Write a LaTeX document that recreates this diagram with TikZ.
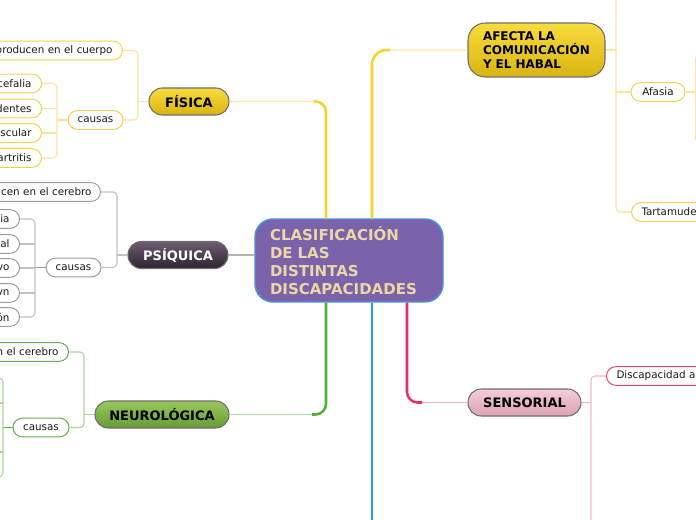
\documentclass[tikz,border=0pt]{standalone}
\usepackage{fontspec}
\setmainfont{DejaVu Sans}
\definecolor{yTop}{HTML}{F8DC3C}
\definecolor{yBot}{HTML}{D9B412}
\definecolor{pTop}{HTML}{705C72}
\definecolor{pBot}{HTML}{2E2230}
\definecolor{gTop}{HTML}{97C85E}
\definecolor{gBot}{HTML}{679C32}
\definecolor{sTop}{HTML}{F4CDD7}
\definecolor{sBot}{HTML}{DCA2B2}
\definecolor{tBorder}{HTML}{6E6E6E}
\definecolor{cFill}{HTML}{7A63AB}
\definecolor{cBorder}{HTML}{4A92DA}
\definecolor{cText}{HTML}{EBD8A5}
\definecolor{ySub}{HTML}{F6D24A}
\definecolor{gySub}{HTML}{9C9C9C}
\definecolor{grSub}{HTML}{62B04A}
\definecolor{pkSub}{HTML}{E2457C}
\definecolor{ySubL}{HTML}{FBE49C}
\definecolor{gySubL}{HTML}{C2C2C2}
\definecolor{grSubL}{HTML}{AAD592}
\definecolor{pkSubL}{HTML}{F6B5C8}
\definecolor{ySat}{HTML}{F6D22A}
\definecolor{yLight}{HTML}{FCE9A4}
\definecolor{gSat}{HTML}{56AE3E}
\definecolor{gLight}{HTML}{BFE0AE}
\definecolor{rSat}{HTML}{E62E6B}
\definecolor{rLight}{HTML}{F8B8CB}
\definecolor{bLine}{HTML}{2C9FE3}
\definecolor{grayLine}{HTML}{B5B5B5}
\definecolor{txt}{HTML}{1A1A1A}
\begin{document}
\begin{tikzpicture}[x=0.75pt,y=-0.75pt,
  topic/.style={draw=tBorder, line width=0.8pt, inner sep=0pt, minimum height=20.25pt,
    rounded corners=10pt, align=center, font=\fontsize{9.75pt}{12pt}\selectfont\bfseries},
  sub/.style={draw, fill=white, line width=0.75pt, inner ysep=0pt, minimum height=14pt,
    rounded corners=7pt, font=\fontsize{7.75pt}{9.5pt}\selectfont, text=txt},
  subR/.style={sub, anchor=east, text width=#1, align=right, inner xsep=7.5pt},
  subL/.style={sub, anchor=west, text width=#1, align=left, inner xsep=7.5pt},
  yl/.style={draw=ySubL, line width=0.8pt},
  gyl/.style={draw=gySubL, line width=0.8pt},
  grl/.style={draw=grSubL, line width=0.8pt},
  pkl/.style={draw=pkSubL, line width=0.8pt},
  rc/.style={rounded corners=3pt},
  mainlight/.style={line width=1.1pt, rounded corners=8pt},
  mainsat/.style={line width=1.9pt, rounded corners=8pt}
]
\useasboundingbox (0,0) rectangle (696,520);
\clip (0,0) rectangle (696,520);

% ---------- central node ----------
\node[draw=cBorder, fill=cFill, line width=1.1pt, rounded corners=13.5pt,
  minimum width=141pt, minimum height=62.25pt, text width=118.5pt, inner xsep=11.25pt,
  align=left, text=cText, font=\fontsize{11.25pt}{13.5pt}\selectfont\bfseries]
  (cen) at (349,260.5) {CLASIFICACIÓN\\DE LAS\\DISTINTAS\\DISCAPACIDADES};

% ---------- main topics ----------
\node[topic, top color=yTop, bottom color=yBot, minimum width=60pt] (fis) at (189,101.5) {FÍSICA};
\node[topic, top color=pTop, bottom color=pBot, text=white, minimum width=75pt] (psi) at (178,255) {PSÍQUICA};
\node[topic, top color=gTop, bottom color=gBot, minimum width=100.5pt] (neu) at (162,414.5) {NEUROLÓGICA};
\node[topic, top color=sTop, bottom color=sBot, minimum width=84.75pt] (sen) at (524.5,402.5) {SENSORIAL};
\node[topic, top color=yTop, bottom color=yBot, minimum height=40.5pt, rounded corners=13pt,
  text width=80.25pt, align=left, inner xsep=11.25pt,
  font=\fontsize{9pt}{10.5pt}\selectfont\bfseries] (afe) at (536.5,50) {AFECTA LA\\COMUNICACIÓN\\Y EL HABAL};

% ---------- FÍSICA subtopics ----------
\node[subR=105pt, draw=ySub] (fprod) at (123,50.5) {producen en el cuerpo};
\node[sub, draw=ySub, minimum width=41.25pt, inner xsep=0pt] (fcau) at (95.5,120) {causas};
\node[subR=45pt, draw=ySub] (fc1) at (42,83.5) {cefalia};
\node[subR=45pt, draw=ySub] (fc2) at (42,108.5) {dentes};
\node[subR=45pt, draw=ySub] (fc3) at (42,133) {scular};
\node[subR=45pt, draw=ySub] (fc4) at (42,158) {artritis};

% ---------- PSÍQUICA subtopics ----------
\node[subR=90pt, draw=gySub, inner xsep=6.75pt] (pprod) at (101,192) {cen en el cerebro};
\node[sub, draw=gySub, minimum width=41.25pt, inner xsep=0pt] (pcau) at (73.5,267.5) {causas};
\node[subR=30pt, draw=gySub] (pc1) at (20,219) {ia};
\node[subR=30pt, draw=gySub] (pc2) at (20,244) {al};
\node[subR=30pt, draw=gySub] (pc3) at (20,268) {vo};
\node[subR=30pt, draw=gySub] (pc4) at (20,293) {vn};
\node[subR=30pt, draw=gySub] (pc5) at (20,317) {ón};

% ---------- NEUROLÓGICA subtopics ----------
\node[subR=80pt, draw=grSub] (nprod) at (69,352) {n el cerebro};
\node[sub, draw=grSub, minimum width=42pt, inner xsep=0pt] (ncau) at (41,427.5) {causas};

% ---------- AFECTA subtopics ----------
\node[sub, draw=ySub, minimum width=40.5pt, inner xsep=0pt] (afa) at (658,92) {Afasia};
\node[subL=80pt, draw=ySub] (tar) at (631,212) {Tartamude};

% ---------- SENSORIAL subtopics ----------
\node[subL=120pt, draw=pkSub] (dis) at (606,376) {Discapacidad au};

% ---------- main connectors ----------
\coordinate (cY1) at ([xshift=-17.25pt]cen.north);
\coordinate (cY2) at ([xshift=17.25pt]cen.north);
\coordinate (cG) at ([xshift=-17.25pt]cen.south);
\coordinate (cB) at ([xshift=17.25pt]cen.south);
\coordinate (cR) at ([xshift=43.5pt]cen.south);
\coordinate (fisK) at (314,101.5);
\coordinate (afeK) at (390,50);
\coordinate (neuK) at (312,414.5);
\coordinate (senK) at (422,402.5);
\coordinate (bEnd) at (372,525);

\draw[mainlight, draw=yLight] (fis.east) -| (cY1);
\draw[mainsat, draw=ySat] (cY1) |- (fisK);
\draw[mainlight, draw=yLight, rounded corners=11pt] (afe.west) -| (cY2);
\draw[mainsat, draw=ySat, rounded corners=11pt] (cY2) |- (afeK);
\draw[grayLine, line width=0.9pt] (psi.east) -- (psi.east -| cen.west);
\draw[mainlight, draw=gLight] (neu.east) -| (cG);
\draw[mainsat, draw=gSat] (cG) |- (neuK);
\draw[mainsat, draw=bLine, rounded corners=0pt] (cB) -- (bEnd);
\draw[mainlight, draw=rLight] (sen.west) -| (cR);
\draw[mainsat, draw=rSat] (cR) |- (senK);

% ---------- FÍSICA sub connectors ----------
\coordinate (fj) at (138,101.5);
\draw[yl] (fis.west) -- (fj);
\draw[yl, rc] (fprod.east) -| (fj) |- (fcau.east);
\coordinate (fcj) at (57,120);
\draw[yl] (fcau.west) -- (fcj);
\draw[yl, rc] (fc1.east) -| (fcj) |- (fc4.east);
\draw[yl] (fc2.east) -- (fc2.east -| fcj);
\draw[yl] (fc3.east) -- (fc3.east -| fcj);

% ---------- PSÍQUICA sub connectors ----------
\coordinate (pj) at (117,255);
\draw[gyl] (psi.west) -- (pj);
\draw[gyl, rc] (pprod.east) -| (pj) |- (pcau.east);
\coordinate (pcj) at (35,267.5);
\draw[gyl, draw=gySub] (pcau.west) -- (pcj);
\draw[gyl, rc] (pc1.east) -| (pcj) |- (pc5.east);
\draw[gyl] (pc2.east) -- (pc2.east -| pcj);
\draw[gyl] (pc3.east) -- (pc3.east -| pcj);
\draw[gyl] (pc4.east) -- (pc4.east -| pcj);

% ---------- NEUROLÓGICA sub connectors ----------
\coordinate (nj) at (84,414.5);
\draw[grl] (neu.west) -- (nj);
\draw[grl, rc] (nprod.east) -| (nj) |- (ncau.east);
\coordinate (ncj) at (3,427.5);
\draw[grl, draw=grSub] (ncau.west) -- (ncj);
\coordinate (n1) at (-8,378);
\coordinate (n2) at (-8,403);
\coordinate (n3) at (-8,452);
\coordinate (n4) at (-8,477);
\draw[grl, rc] (n1) -| (ncj) |- (n4);
\draw[grl] (n2) -- (n2 -| ncj);
\draw[grl] (n3) -- (n3 -| ncj);

% ---------- AFECTA sub connectors ----------
\coordinate (aj) at (616,50);
\coordinate (atop) at (616,-10);
\draw[yl] (afe.east) -- (aj);
\draw[yl, rc] (atop) |- (tar.west);
\draw[yl] (afa.west) -- (afa.west -| aj);
\coordinate (aaj) at (695.5,92);
\coordinate (aa1) at (695.5,57);
\coordinate (aa2) at (695.5,140);
\draw[yl] (afa.east) -- (aaj);
\draw[yl] (aa1) -- (aa2);

% ---------- SENSORIAL sub connectors ----------
\coordinate (sj) at (591,402.5);
\coordinate (sbot) at (591,525);
\draw[pkl] (sen.east) -- (sj);
\draw[pkl, rc] (dis.west) -| (sbot);
\end{tikzpicture}
\end{document}
